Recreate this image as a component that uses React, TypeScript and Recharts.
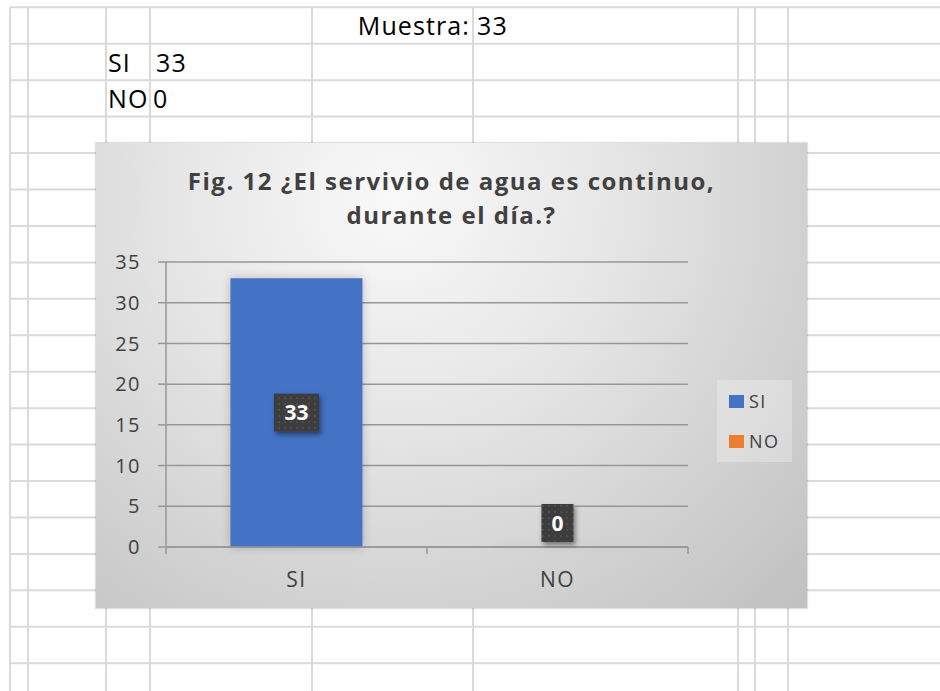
import { Bar, BarChart, CartesianGrid, Cell, LabelList, Legend, XAxis, YAxis } from "recharts";

const categories = ["SI", "NO"];
const counts = [33, 0];
const colors = ["#4472C4", "#ED7D31"];
const yTicks = [0, 5, 10, 15, 20, 25, 30, 35];
const sampleSize = 33;
const title = ["Fig. 12 ¿El servivio de agua es continuo,", "durante el día.?"];

const chartData = categories.map((name, i) => ({ name, value: counts[i] }));

// spreadsheet grid behind the chart
const colLines = [10, 28, 106, 150, 312, 473, 738, 755, 788];
const rowLines = Array.from({ length: 19 }, (_, i) => 7.3 + i * 36.44);

const font = "'Open Sans', sans-serif";
const axisGray = "#979797";
const textGray = "#404040";

const CHART_W = 711;
const CHART_H = 465;
const margin = { top: 119, right: 119, bottom: 21, left: 0 };
const Y_WIDTH = 70;
const X_HEIGHT = 40;
const X_TICK_MARGIN = 25;

const CategoryTick = (props: any) => {
  const { x, y, payload, index } = props;
  const plotW = CHART_W - margin.left - margin.right - Y_WIDTH;
  const half = payload?.offset ? payload.offset : plotW / categories.length / 2;
  const axisY = y - X_TICK_MARGIN;
  return (
    <g>
      <line x1={x - half} x2={x - half} y1={axisY} y2={axisY + 7} stroke={axisGray} strokeWidth={1.5} />
      {index === categories.length - 1 && (
        <line x1={x + half} x2={x + half} y1={axisY} y2={axisY + 7} stroke={axisGray} strokeWidth={1.5} />
      )}
      <text x={x} y={y} dy="0.72em" textAnchor="middle" fill={textGray} fontSize={21} letterSpacing={1.5} fontFamily={font}>
        {payload.value}
      </text>
    </g>
  );
};

// dark data-label box: centred in tall bars, sitting just above short ones
const renderValueLabel = (props: any) => {
  const vb = props.viewBox || {};
  const x = Number(props.x ?? vb.x);
  const y = Number(props.y ?? vb.y);
  const width = Number(props.width ?? vb.width);
  const height = Number(props.height ?? vb.height);
  const text = String(props.value);
  const w = 13 * text.length + 19;
  const h = 38;
  const cx = x + width / 2;
  const cy = height > h + 10 ? y + height / 2 : y + height - 5 - h / 2;
  return (
    <g>
      <rect x={cx - w / 2} y={cy - h / 2} width={w} height={h} fill="url(#labelDots)" filter="url(#labelShadow)" />
      <text x={cx} y={cy} dy="0.36em" textAnchor="middle" fill="#ffffff" fontWeight={700} fontSize={21} fontFamily={font}>
        {text}
      </text>
    </g>
  );
};

const renderLegend = () => (
  <div
    style={{
      width: 75,
      height: 82,
      boxSizing: "border-box",
      paddingTop: 1,
      paddingLeft: 12,
      background: "rgba(255,255,255,0.28)",
      fontFamily: font,
      fontSize: 18,
      letterSpacing: 1.5,
      color: textGray,
    }}
  >
    {categories.map((c, i) => (
      <div key={c} style={{ display: "flex", alignItems: "center", height: 40 }}>
        <span style={{ display: "inline-block", width: 15, height: 13, background: colors[i], marginRight: 5 }} />
        <span>{c}</span>
      </div>
    ))}
  </div>
);

export default function App() {
  return (
    <div style={{ position: "fixed", left: 0, top: 0, width: 940, height: 691, overflow: "hidden", background: "#fff" }}>
      <svg width={940} height={691} style={{ position: "absolute", left: 0, top: 0 }}>
        {colLines.map((x) => (
          <line key={"c" + x} x1={x} x2={x} y1={rowLines[0]} y2={691} stroke="#dadada" strokeWidth={2} />
        ))}
        {rowLines.map((y) => (
          <line key={"r" + y} x1={colLines[0]} x2={940} y1={y} y2={y} stroke="#dadada" strokeWidth={2} />
        ))}
        <g fontFamily={font} fontSize={25} fill="#000" letterSpacing={1.1}>
          <text x={470} y={35} textAnchor="end">Muestra:</text>
          <text x={477} y={35}>{sampleSize}</text>
          {categories.map((c, i) => (
            <g key={c}>
              <text x={108} y={71.5 + i * 36.44}>{c}</text>
              <text x={i === 0 ? 156 : 153} y={71.5 + i * 36.44}>{counts[i]}</text>
            </g>
          ))}
        </g>
      </svg>

      <div
        style={{
          position: "absolute",
          left: 96,
          top: 143,
          width: CHART_W,
          height: CHART_H,
          background: "radial-gradient(circle at 42% 12%, #f9f9f9 0%, #e6e6e6 38%, #d2d2d2 70%, #c0c0c0 100%)",
          boxShadow: "0 0 1px 1px rgba(0,0,0,0.12)",
        }}
      >
        <div
          style={{
            position: "absolute",
            left: 0,
            top: 21,
            width: CHART_W,
            textAlign: "center",
            fontFamily: font,
            fontWeight: 700,
            fontSize: 24,
            letterSpacing: 1.5,
            lineHeight: "34px",
            color: textGray,
          }}
        >
          {title.map((t) => (
            <div key={t}>{t}</div>
          ))}
        </div>
        <BarChart
          width={CHART_W}
          height={CHART_H}
          data={chartData}
          margin={margin}
          barCategoryGap="24.7%"
          style={{ fontFamily: font }}
        >
          <defs>
            <pattern id="labelDots" width="6" height="6" patternUnits="userSpaceOnUse">
              <rect width="6" height="6" fill="#3c3c3c" />
              <circle cx="3" cy="3" r="0.9" fill="#565656" />
            </pattern>
            <filter id="labelShadow" x="-40%" y="-40%" width="180%" height="180%">
              <feDropShadow dx="2" dy="3" stdDeviation="2.5" floodColor="#000" floodOpacity="0.45" />
            </filter>
          </defs>
          <CartesianGrid vertical={false} stroke={axisGray} strokeWidth={1.5} />
          <XAxis
            dataKey="name"
            height={X_HEIGHT}
            interval={0}
            tickLine={false}
            tickSize={0}
            tickMargin={X_TICK_MARGIN}
            axisLine={{ stroke: axisGray, strokeWidth: 1.5 }}
            tick={<CategoryTick />}
          />
          <YAxis
            width={Y_WIDTH}
            domain={[0, 35]}
            ticks={yTicks}
            interval={0}
            tickSize={8}
            tickMargin={17}
            axisLine={{ stroke: axisGray, strokeWidth: 1.5 }}
            tickLine={{ stroke: axisGray, strokeWidth: 1.5 }}
            tick={{ fill: textGray, fontSize: 20, fontFamily: font, letterSpacing: 1.5 }}
          />
          <Legend
            layout="horizontal"
            verticalAlign="middle"
            align="center"
            content={renderLegend}
            wrapperStyle={{ left: 621, top: 237, width: 75, height: 82 }}
          />
          {/* minPointSize keeps the zero bar in the label data; it stays hidden under the axis line */}
          <Bar dataKey="value" isAnimationActive={false} minPointSize={0.5}>
            {chartData.map((d, i) => (
              <Cell key={d.name} fill={colors[i]} style={{ filter: "drop-shadow(0 0 5px rgba(0,0,0,0.22))" }} />
            ))}
            <LabelList dataKey="value" content={renderValueLabel} />
          </Bar>
        </BarChart>
      </div>
    </div>
  );
}
